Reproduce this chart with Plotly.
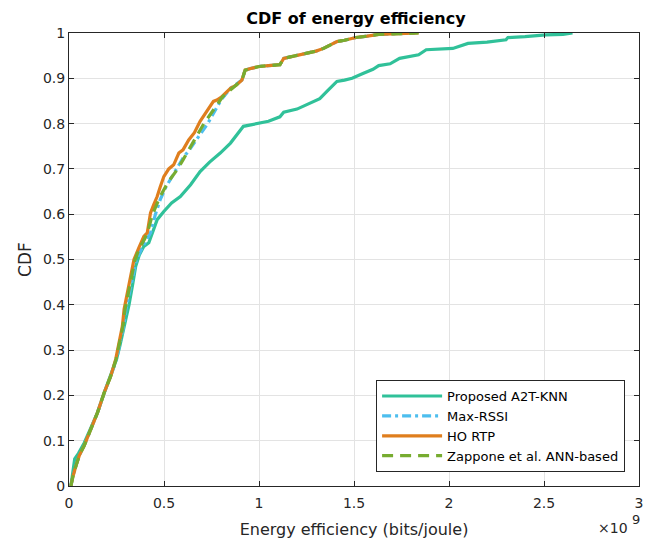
import plotly.graph_objects as go

# Energy efficiency values in units of 1e9 bits/joule, with CDF levels
a2t_x = [0.01, 0.02, 0.03, 0.05, 0.08, 0.115, 0.15, 0.185, 0.22, 0.25, 0.268, 0.287, 0.305, 0.316,
         0.335, 0.351, 0.37, 0.394, 0.42, 0.44, 0.464, 0.499, 0.54, 0.586, 0.64, 0.69, 0.74, 0.796,
         0.85, 0.918, 0.95, 1.0, 1.05, 1.11, 1.13, 1.2, 1.27, 1.32, 1.36, 1.41, 1.45, 1.49, 1.55,
         1.6, 1.63, 1.69, 1.74, 1.8, 1.84, 1.88, 2.02, 2.10, 2.2, 2.30, 2.31, 2.4, 2.51, 2.6, 2.65]
a2t_y = [0, 0.03, 0.06, 0.072, 0.095, 0.128, 0.162, 0.205, 0.243, 0.28, 0.31, 0.345, 0.38, 0.40,
         0.445, 0.485, 0.51, 0.529, 0.537, 0.56, 0.588, 0.606, 0.625, 0.639, 0.665, 0.694, 0.715, 0.735,
         0.757, 0.794, 0.797, 0.80, 0.805, 0.815, 0.825, 0.832, 0.845, 0.855, 0.872, 0.893, 0.896, 0.90,
         0.911, 0.92, 0.928, 0.932, 0.944, 0.948, 0.952, 0.963, 0.966, 0.977, 0.98, 0.985, 0.99, 0.992,
         0.996, 0.997, 1.0]

rtp_x = [0.01, 0.02, 0.037, 0.054, 0.08, 0.115, 0.15, 0.185, 0.22, 0.246, 0.263, 0.281, 0.29, 0.316,
         0.342, 0.368, 0.394, 0.412, 0.429, 0.445, 0.464, 0.48, 0.499, 0.525, 0.551, 0.578, 0.6, 0.63,
         0.66, 0.69, 0.72, 0.743, 0.76, 0.778, 0.80, 0.85, 0.88, 0.91, 0.927, 0.96, 1.0, 1.05, 1.11,
         1.13, 1.2, 1.25, 1.3, 1.34, 1.41, 1.45, 1.51, 1.57, 1.63, 1.7, 1.78, 1.84]
rtp_y = [0, 0.02, 0.045, 0.067, 0.089, 0.126, 0.162, 0.206, 0.243, 0.28, 0.316, 0.353, 0.39, 0.441,
         0.50, 0.526, 0.551, 0.559, 0.603, 0.62, 0.639, 0.66, 0.683, 0.70, 0.709, 0.735, 0.742, 0.764,
         0.78, 0.805, 0.825, 0.838, 0.849, 0.852, 0.858, 0.878, 0.885, 0.896, 0.918, 0.922, 0.926, 0.928,
         0.93, 0.944, 0.95, 0.955, 0.96, 0.966, 0.981, 0.984, 0.99, 0.993, 0.997, 0.998, 0.999, 1.0]

rssi_x = [0.01, 0.02, 0.037, 0.054, 0.08, 0.115, 0.15, 0.185, 0.22, 0.25, 0.27, 0.288, 0.30, 0.325,
          0.355, 0.378, 0.40, 0.43, 0.455, 0.48, 0.51, 0.55, 0.60, 0.63, 0.67, 0.73, 0.80, 0.85, 0.91,
          0.927, 0.96, 1.0, 1.05, 1.11, 1.13, 1.2, 1.25, 1.3, 1.34, 1.41, 1.45, 1.51, 1.57, 1.63, 1.7,
          1.82]
rssi_y = [0, 0.02, 0.045, 0.067, 0.089, 0.126, 0.162, 0.206, 0.243, 0.28, 0.316, 0.353, 0.39, 0.441,
          0.50, 0.52, 0.537, 0.56, 0.60, 0.632, 0.66, 0.687, 0.724, 0.74, 0.764, 0.80, 0.852, 0.878,
          0.896, 0.918, 0.922, 0.926, 0.928, 0.93, 0.944, 0.95, 0.955, 0.96, 0.966, 0.981, 0.984, 0.99,
          0.993, 0.997, 0.998, 1.0]

zap_x = [0.01, 0.02, 0.037, 0.054, 0.08, 0.115, 0.15, 0.185, 0.22, 0.248, 0.266, 0.284, 0.295, 0.32,
         0.348, 0.372, 0.398, 0.42, 0.44, 0.46, 0.48, 0.52, 0.569, 0.60, 0.63, 0.67, 0.71, 0.76, 0.81,
         0.86, 0.91, 0.927, 0.96, 1.0, 1.05, 1.11, 1.13, 1.2, 1.25, 1.3, 1.34, 1.41, 1.45, 1.51, 1.57,
         1.63, 1.7, 1.78, 1.84]
zap_y = [0, 0.02, 0.045, 0.067, 0.089, 0.126, 0.162, 0.206, 0.243, 0.28, 0.316, 0.353, 0.39, 0.441,
         0.50, 0.526, 0.545, 0.57, 0.60, 0.62, 0.639, 0.67, 0.698, 0.72, 0.742, 0.77, 0.80, 0.83, 0.86,
         0.878, 0.896, 0.918, 0.922, 0.926, 0.928, 0.93, 0.944, 0.95, 0.955, 0.96, 0.966, 0.981, 0.984,
         0.99, 0.993, 0.997, 0.998, 0.999, 1.0]

series_names = ["Proposed A2T-KNN", "Max-RSSI", "HO RTP", "Zappone et al. ANN-based"]
x_ticks = [0, 0.5, 1, 1.5, 2, 2.5, 3]
y_ticks = [0, 0.1, 0.2, 0.3, 0.4, 0.5, 0.6, 0.7, 0.8, 0.9, 1]

FONT = "DejaVu Sans, Liberation Sans, Arial, sans-serif"
AXC = "#262626"
W, H = 648, 541
L, R, T, B = 69, 5, 33, 54
PW, PH = W - L - R, H - T - B


def px(xp):
    return (xp - L) / PW


def py(yp):
    return (H - B - yp) / PH


fig = go.Figure()
fig.add_trace(go.Scatter(x=a2t_x, y=a2t_y, mode="lines", name=series_names[0],
                         line=dict(color="#30C199", width=3.2)))
fig.add_trace(go.Scatter(x=rssi_x, y=rssi_y, mode="lines", name=series_names[1],
                         line=dict(color="#4DBEEE", width=3.2, dash="9px,4px,3px,4px")))
fig.add_trace(go.Scatter(x=rtp_x, y=rtp_y, mode="lines", name=series_names[2],
                         line=dict(color="#DF7E1E", width=3.2)))
fig.add_trace(go.Scatter(x=zap_x, y=zap_y, mode="lines", name=series_names[3],
                         line=dict(color="#77AC30", width=3.2, dash="11px,7px")))

axis_common = dict(
    showline=True, linecolor=AXC, linewidth=1, mirror="ticks",
    ticks="inside", ticklen=5, tickcolor=AXC, tickwidth=1,
    showgrid=True, gridcolor="#E3E3E3", gridwidth=1, zeroline=False,
    tickfont=dict(family=FONT, size=14, color=AXC),
)

fig.update_layout(
    width=W, height=H,
    margin=dict(l=L, r=R, t=T, b=B),
    paper_bgcolor="white", plot_bgcolor="white",
    font=dict(family=FONT, color=AXC),
    title=dict(text="<b>CDF of energy efficiency</b>", x=356 / W, xanchor="center",
               y=1 - 18 / H, yanchor="middle",
               font=dict(family=FONT, size=16, color="black")),
    xaxis=dict(range=[0, 3], tickvals=x_ticks, ticktext=[f"{v:g}" for v in x_ticks],
               ticklabelstandoff=4,
               title=dict(text="Energy efficiency (bits/joule)", standoff=14,
                          font=dict(family=FONT, size=16, color=AXC)),
               **axis_common),
    yaxis=dict(range=[0, 1], tickvals=y_ticks, ticktext=[f"{v:g}" for v in y_ticks],
               title=dict(text="CDF", standoff=6,
                          font=dict(family=FONT, size=17, color=AXC)),
               **axis_common),
    legend=dict(x=px(629), y=py(473), xanchor="right", yanchor="bottom",
                bgcolor="white", bordercolor=AXC, borderwidth=1,
                font=dict(family=FONT, size=13, color="black"),
                itemwidth=60, tracegroupgap=0),
    showlegend=True,
)

fig.add_annotation(text="×10", xref="paper", yref="paper",
                   x=px(634), y=py(529), xanchor="right", yanchor="middle", showarrow=False,
                   font=dict(family=FONT, size=14, color=AXC))
fig.add_annotation(text="9", xref="paper", yref="paper",
                   x=px(634), y=py(521), xanchor="left", yanchor="middle", showarrow=False,
                   font=dict(family=FONT, size=13, color=AXC))

fig.write_html("out.html")
